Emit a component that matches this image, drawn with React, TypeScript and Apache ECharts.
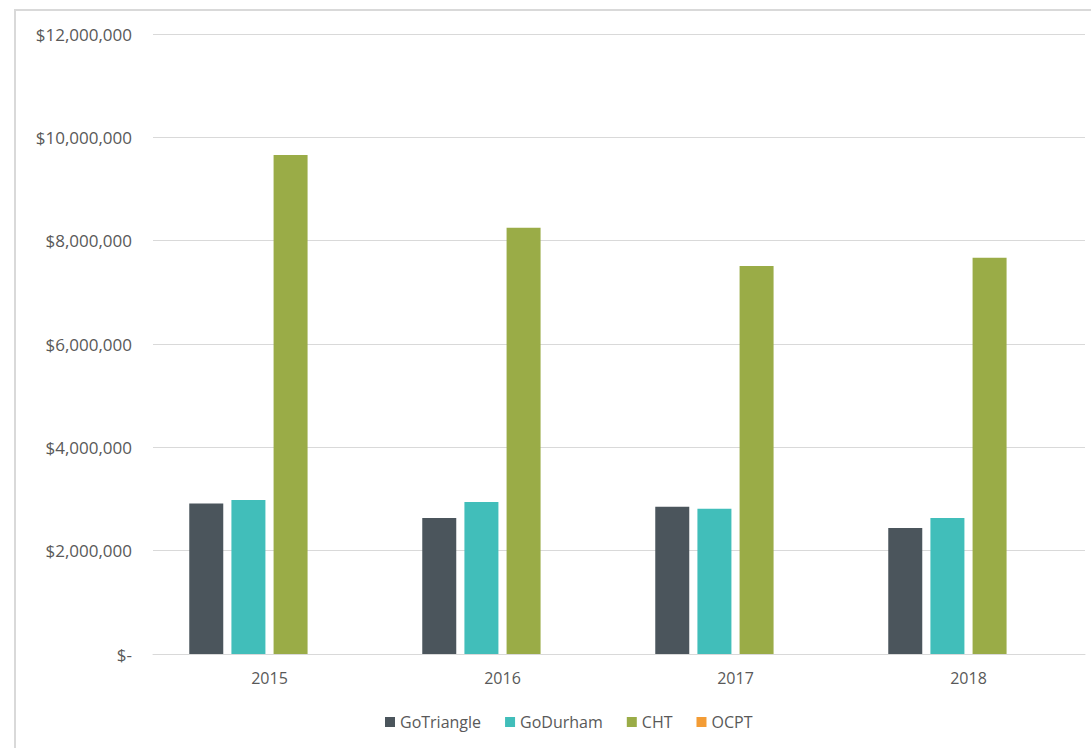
import React, { useEffect, useRef } from "react";
import * as echarts from "echarts";

const years = ["2015", "2016", "2017", "2018"];
const goTriangle = [2915000, 2630000, 2850000, 2440000];
const goDurham = [2980000, 2940000, 2810000, 2630000];
const cht = [9660000, 8250000, 7510000, 7670000];
const ocpt: (number | null)[] = [null, null, null, null];
const yTicks = [0, 2000000, 4000000, 6000000, 8000000, 10000000, 12000000];

const FONT = "'Open Sans', sans-serif";

export default function App() {
  const ref = useRef<HTMLDivElement>(null);
  useEffect(() => {
    if (!ref.current) return;
    const chart = echarts.init(ref.current, null, { renderer: "svg" });
    const mk = (name: string, data: (number | null)[], color: string) => ({
      name,
      type: "bar",
      data,
      barWidth: 34,
      barGap: "24%",
      itemStyle: { color },
    });
    chart.setOption({
      animation: false,
      backgroundColor: "#ffffff",
      textStyle: { fontFamily: FONT },
      graphic: [
        {
          type: "rect",
          shape: { x: 15, y: 10, width: 1100, height: 760 },
          style: { fill: "none", stroke: "#d9d9d9", lineWidth: 2 },
          silent: true,
        },
      ],
      grid: { left: 153, right: 6, top: 34, bottom: 94 },
      legend: {
        bottom: 13,
        left: 380,
        itemWidth: 10,
        itemHeight: 10,
        itemGap: 24,
        icon: "rect",
        textStyle: { color: "#595959", fontSize: 16, fontFamily: FONT },
        data: ["GoTriangle", "GoDurham", "CHT", "OCPT"],
      },
      xAxis: {
        type: "category",
        data: years,
        axisLine: { lineStyle: { color: "#d9d9d9", width: 1 } },
        axisTick: { show: false },
        axisLabel: { color: "#595959", fontSize: 16, margin: 16, fontFamily: FONT },
      },
      yAxis: {
        type: "value",
        min: yTicks[0],
        max: yTicks[yTicks.length - 1],
        interval: 2000000,
        axisLine: { show: false },
        axisTick: { show: false },
        splitLine: { lineStyle: { color: "#d9d9d9", width: 1 } },
        axisLabel: {
          color: "#595959",
          fontSize: 17,
          margin: 21,
          fontFamily: FONT,
          formatter: (v: number) => (v === 0 ? "$-" : "$" + v.toLocaleString("en-US")),
        },
      },
      series: [
        mk("GoTriangle", goTriangle, "#4b555c"),
        mk("GoDurham", goDurham, "#41beba"),
        mk("CHT", cht, "#9aac47"),
        mk("OCPT", ocpt, "#f39c35"),
      ],
    });
    return () => chart.dispose();
  }, []);
  return (
    <div
      ref={ref}
      style={{ position: "fixed", left: 0, top: 0, width: 1091, height: 748 }}
    />
  );
}
